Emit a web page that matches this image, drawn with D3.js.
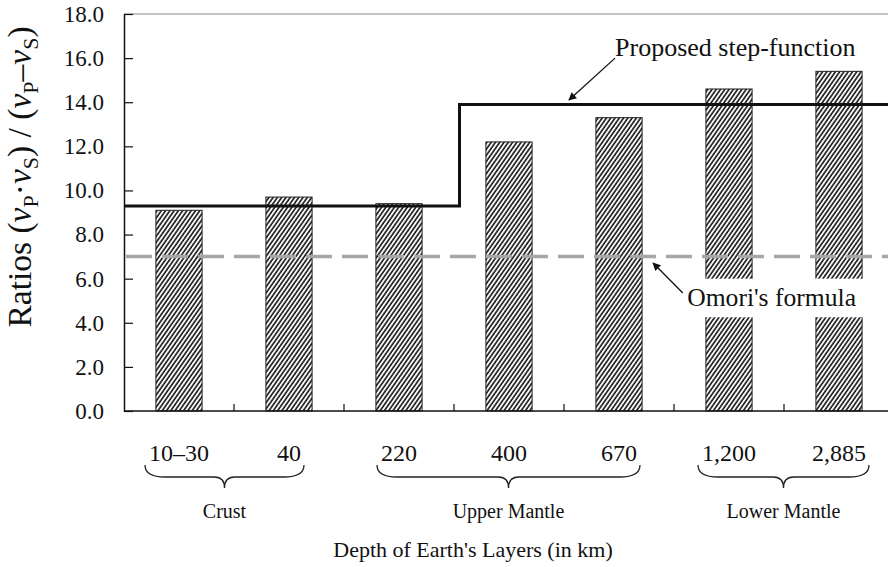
<!DOCTYPE html>
<html>
<head>
<meta charset="utf-8">
<script src="https://cdn.jsdelivr.net/npm/d3@7/dist/d3.min.js"></script>
<style>
  html, body { margin: 0; padding: 0; background: #fff; }
  svg text { font-family: 'Liberation Serif', 'Times New Roman', Times, 'DejaVu Serif', serif !important; }
</style>
</head>
<body>
<svg id="chart" width="888" height="567"></svg>
<script>
// ---- data ----
const categories = ["10–30", "40", "220", "400", "670", "1,200", "2,885"];
const ratios = [9.1, 9.7, 9.4, 12.2, 13.3, 14.6, 15.4];
const yTicks = [0, 2, 4, 6, 8, 10, 12, 14, 16, 18];
const groupNames = ["Crust", "Upper Mantle", "Lower Mantle"];
const groupFirst = ["10–30", "220", "1,200"];
const groupLast = ["40", "670", "2,885"];
const stepIndex = [0, 3.05, 7];       // category-index positions of step points
const stepLevels = [9.3, 13.9, 13.9]; // proposed step-function values
const omoriValue = 7.0;               // Omori's formula

// ---- layout ----
const svg = d3.select("#chart");
const pLeft = 124, pRight = 894, pTop = 14, pBottom = 411;

const y = d3.scaleLinear().domain([0, 18]).range([pBottom, pTop]);
const x = d3.scaleBand().domain(categories).range([pLeft, pRight])
  .paddingInner(0.58).paddingOuter(0.29);
const xi = d3.scaleLinear().domain([0, categories.length]).range([pLeft, pRight]);

// hatch pattern
const defs = svg.append("defs");
const pat = defs.append("pattern").attr("id", "hatch")
  .attr("patternUnits", "userSpaceOnUse").attr("width", 3.5).attr("height", 10)
  .attr("patternTransform", "rotate(35)");
pat.append("rect").attr("width", 3.5).attr("height", 10).attr("fill", "#fff");
pat.append("line").attr("x1", 1).attr("x2", 1).attr("y1", 0).attr("y2", 10)
  .attr("stroke", "#111").attr("stroke-width", 1.6);

const marker = defs.append("marker").attr("id", "arrow")
  .attr("viewBox", "0 0 10 10").attr("refX", 9).attr("refY", 5)
  .attr("markerWidth", 10).attr("markerHeight", 8).attr("markerUnits", "userSpaceOnUse")
  .attr("orient", "auto");
marker.append("path").attr("d", "M0,0 L10,5 L0,10 Z").attr("fill", "#111");

svg.append("rect").attr("width", 888).attr("height", 567).attr("fill", "#fff");

// top frame line
svg.append("line").attr("x1", pLeft).attr("x2", pRight).attr("y1", pTop).attr("y2", pTop)
  .attr("stroke", "#8a8a8a").attr("stroke-width", 1.2);

// bars
svg.append("g").selectAll("rect").data(categories).join("rect")
  .attr("x", d => x(d)).attr("width", x.bandwidth())
  .attr("y", (d, i) => y(ratios[i])).attr("height", (d, i) => y(0) - y(ratios[i]))
  .attr("fill", "url(#hatch)").attr("stroke", "#222").attr("stroke-width", 1);

// Omori's formula dashed line
svg.append("path")
  .attr("d", d3.line().x(d => xi(d)).y(() => y(omoriValue))([0, categories.length]))
  .attr("stroke", "#a6a6a6").attr("stroke-width", 3.5).attr("stroke-dasharray", "26,10")
  .attr("stroke-dashoffset", -2).attr("fill", "none");

// proposed step function
svg.append("path")
  .attr("d", d3.line().x(d => xi(d[0])).y(d => y(d[1])).curve(d3.curveStepAfter)(stepIndex.map((v, i) => [v, stepLevels[i]])))
  .attr("stroke", "#111").attr("stroke-width", 3).attr("fill", "none");

// y axis
const yAxis = svg.append("g").attr("transform", `translate(${pLeft},0)`)
  .call(d3.axisLeft(y).tickValues(yTicks).tickFormat(d3.format(".1f"))
    .tickSize(-9).tickSizeOuter(0).tickPadding(20));
yAxis.attr("font-family", null);
yAxis.select(".domain").attr("stroke", "#111").attr("stroke-width", 1.5);
yAxis.selectAll(".tick line").attr("stroke", "#111").attr("stroke-width", 1.2);
yAxis.selectAll(".tick text").attr("font-size", 23).attr("fill", "#111");

// x axis baseline and ticks at band boundaries
svg.append("line").attr("x1", pLeft).attr("x2", pRight).attr("y1", pBottom).attr("y2", pBottom)
  .attr("stroke", "#111").attr("stroke-width", 1.5);
svg.append("g").selectAll("line").data(d3.range(1, categories.length + 1)).join("line")
  .attr("x1", d => xi(d)).attr("x2", d => xi(d)).attr("y1", pBottom).attr("y2", pBottom - 7)
  .attr("stroke", "#111").attr("stroke-width", 1.2);

// category labels
const xAxis = svg.append("g").attr("transform", `translate(0,${pBottom})`)
  .call(d3.axisBottom(x).tickSize(0).tickPadding(33));
xAxis.attr("font-family", null);
xAxis.select(".domain").remove();
xAxis.selectAll(".tick text").attr("font-size", 24).attr("fill", "#111");

// group braces
const labelBox = {};
xAxis.selectAll(".tick").each(function(d) {
  const b = this.querySelector("text").getBBox();
  const cx = x(d) + x.bandwidth() / 2;
  labelBox[d] = { l: cx + b.x, r: cx + b.x + b.width };
});
const by0 = 465, by1 = 477, by2 = 488;
groupNames.forEach((g, i) => {
  const x1 = labelBox[groupFirst[i]].l - 4, x2 = labelBox[groupLast[i]].r + 3;
  const xm = (x1 + x2) / 2, r = 20, rt = 10;
  const p = `M${x1},${by0} Q${x1},${by1} ${x1 + r},${by1} L${xm - rt},${by1} Q${xm},${by1} ${xm},${by2} Q${xm},${by1} ${xm + rt},${by1} L${x2 - r},${by1} Q${x2},${by1} ${x2},${by0}`;
  svg.append("path").attr("d", p).attr("fill", "none").attr("stroke", "#222").attr("stroke-width", 1.3);
  svg.append("text").attr("x", xm).attr("y", 518).attr("text-anchor", "middle")
    .attr("font-size", 20).attr("fill", "#111").text(g);
});

// x axis title
svg.append("text").attr("x", 473).attr("y", 557).attr("text-anchor", "middle")
  .attr("font-size", 22).attr("fill", "#111")
  .text("Depth of Earth's Layers (in km)");

// y axis title
const yt = svg.append("text").attr("transform", "translate(31,177) rotate(-90)")
  .attr("text-anchor", "middle").attr("font-size", 33.5).attr("fill", "#111");
const parts = [["Ratios (", "n"], ["v", "i"], ["P", "s"], ["·", "n"], ["v", "i"], ["S", "s"],
  [") / (", "n"], ["v", "i"], ["P", "s"], ["–", "n"], ["v", "i"], ["S", "s"], [")", "n"]];
let isSub = false;
parts.forEach(([t, k]) => {
  const ts = yt.append("tspan").text(t);
  if (k === "i") ts.attr("font-style", "italic");
  if (k === "s") { ts.attr("font-size", 22).attr("dy", isSub ? 0 : 7); isSub = true; }
  else { if (isSub) ts.attr("dy", -7); isSub = false; }
});

// annotations
svg.append("rect").attr("x", xi(5.0)).attr("y", y(6.0)).attr("width", xi(6.95) - xi(5.0)).attr("height", y(4.25) - y(6.0))
  .attr("fill", "#fff");
svg.append("text").attr("x", xi(5.12)).attr("y", y(4.76))
  .attr("font-size", 25.6).attr("fill", "#111").text("Omori's formula");
svg.append("line").attr("x1", xi(5.08)).attr("y1", y(5.35)).attr("x2", xi(4.81)).attr("y2", y(6.71))
  .attr("stroke", "#111").attr("stroke-width", 1.3).attr("marker-end", "url(#arrow)");

svg.append("text").attr("x", xi(4.464)).attr("y", y(16.09))
  .attr("font-size", 26).attr("fill", "#111").text("Proposed step-function");
svg.append("line").attr("x1", xi(4.464)).attr("y1", y(16.0)).attr("x2", xi(4.045)).attr("y2", y(14.1))
  .attr("stroke", "#111").attr("stroke-width", 1.3).attr("marker-end", "url(#arrow)");
</script>
</body>
</html>
